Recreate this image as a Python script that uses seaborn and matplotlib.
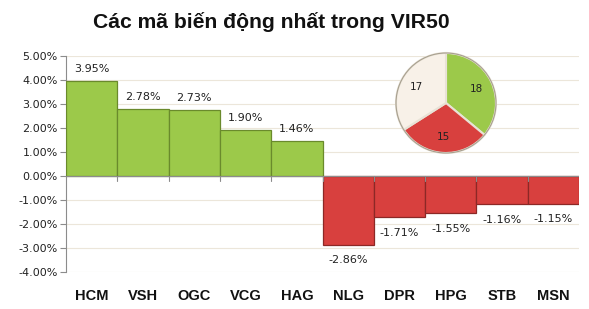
import matplotlib
matplotlib.use("Agg")
import matplotlib.pyplot as plt
import seaborn as sns
import pandas as pd
import numpy as np

codes = ["HCM", "VSH", "OGC", "VCG", "HAG", "NLG", "DPR", "HPG", "STB", "MSN"]
changes = [3.95, 2.78, 2.73, 1.90, 1.46, -2.86, -1.71, -1.55, -1.16, -1.15]
y_ticks = [5, 4, 3, 2, 1, 0, -1, -2, -3, -4]
pie_values = [18, 15, 17]
pie_labels = ["18", "15", "17"]
title = "Các mã biến động nhất trong VIR50"

GREEN = "#9cc94a"
RED = "#d8403e"
CREAM = "#f8f1e8"
GREEN_EDGE = "#6a8a2c"
RED_EDGE = "#8c2826"

sns.set_theme(style="white")
plt.rcParams["font.family"] = ["DejaVu Sans"]

fig = plt.figure(figsize=(5.89, 3.09), dpi=100)
ax = fig.add_axes([66/589, 1-272/309, (579-66)/589, (272-56)/309])

df = pd.DataFrame({"code": codes, "change": changes})
df["sign"] = np.where(df["change"] >= 0, "up", "down")
sns.barplot(data=df, x="code", y="change", hue="sign",
            palette={"up": GREEN, "down": RED}, width=1.0, dodge=False,
            saturation=1, legend=False, ax=ax, linewidth=0.9, zorder=3)
for patch in ax.patches:
    h = patch.get_height()
    if h == 0 or np.isnan(h):
        continue
    patch.set_edgecolor(GREEN_EDGE if h > 0 else RED_EDGE)

ax.set_ylim(-4, 5)
ax.set_xlim(-0.5, len(codes) - 0.5)
ax.set_yticks(y_ticks)
ax.set_yticklabels([f"{v:.2f}%" for v in y_ticks], fontsize=8, color="#222222")
ax.yaxis.grid(True, color="#ece6da", linewidth=0.8, zorder=0)
ax.set_axisbelow(True)
for s in ["top", "right", "bottom"]:
    ax.spines[s].set_visible(False)
ax.spines["left"].set_color("#8c8c8c")
ax.spines["left"].set_linewidth(0.8)
ax.tick_params(axis="y", left=True, length=4, width=0.8, color="#8c8c8c", pad=2)
ax.tick_params(axis="x", bottom=False, length=0)
ax.axhline(0, color="#8c8c8c", linewidth=0.8, zorder=4)
for b in range(1, len(codes)):
    ax.plot([b - 0.5, b - 0.5], [0, -0.2], color="#8c8c8c", linewidth=0.8, zorder=4)

ax.set_xlabel("")
ax.set_ylabel("")
ax.set_xticks(range(len(codes)))
ax.set_xticklabels(codes, fontsize=10.5, fontweight="bold", color="#111111",
                   family="Liberation Sans")
ax.tick_params(axis="x", pad=12)

for i, v in enumerate(changes):
    if v >= 0:
        ax.text(i, v + 0.3, f"{v:.2f}%", ha="center", va="bottom", fontsize=8, color="#222222")
    else:
        ax.text(i, v - 0.45, f"{v:.2f}%", ha="center", va="top", fontsize=8, color="#222222")

fig.text(271/589, 1-22/309, title, ha="center", va="center", fontsize=15.2,
         fontweight="bold", family="Liberation Sans", color="#111111")

pax = fig.add_axes([446/589 - 51/589, 1-103/309 - 51/309, 102/589, 102/309])
wedges, texts = pax.pie(pie_values, colors=[GREEN, RED, CREAM], startangle=90,
                        counterclock=False, labels=pie_labels, labeldistance=0.68,
                        wedgeprops=dict(edgecolor="#e8e2d6", linewidth=1.5),
                        textprops=dict(fontsize=7.5, color="#222222"))
for t in texts:
    t.set_ha("center")
    t.set_va("center")
outline = plt.Circle((0, 0), 1.0, fill=False, edgecolor="#a8a090", linewidth=0.8)
pax.add_patch(outline)
pax.set_xlim(-1.02, 1.02)
pax.set_ylim(-1.02, 1.02)
pax.set_aspect("equal")

fig.savefig("out.png", dpi=100)
